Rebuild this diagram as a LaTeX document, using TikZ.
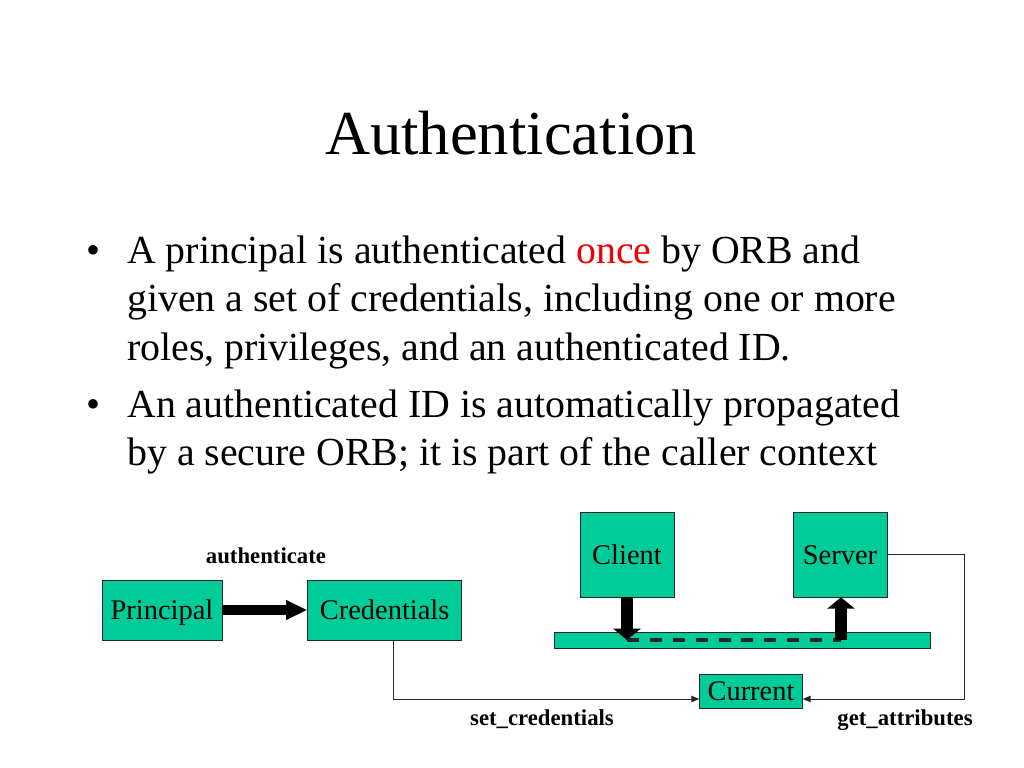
\documentclass[tikz,border=0pt]{standalone}
\usepackage{fontspec}
\setmainfont{Liberation Serif}
\usetikzlibrary{arrows.meta,positioning}
\definecolor{boxgreen}{RGB}{0,204,153}
\definecolor{onceRed}{RGB}{240,0,0}
\tikzset{
    box/.style = {
        draw = black!85,
        fill = boxgreen,
        inner sep = 0pt,
        text height = 16pt,
        text depth = 2pt,
        font = \fontsize{20}{24}\selectfont,
        },
    bar/.style = {
        fill = boxgreen,
        draw = black!85,
        inner sep = 0pt,
        },
    call/.style = {
        anchor = base,
        inner sep = 0pt,
        font = \bfseries\fontsize{16}{19}\selectfont,
        },
    line/.style = {
        anchor = base west,
        inner sep = 0pt,
        font = \fontsize{28}{33}\selectfont,
        },
    fat/.style = {
        line width = 7pt,
        -{Triangle[length=15pt, width=13pt]},
        },
    fat small/.style = {
        line width = 9pt,
        -{Triangle[length=8pt, width=19pt]},
        },
    ctx/.style = {
        draw = black!85,
        line width = 2.5pt,
        dash pattern = on 8.4pt off 7.7pt,
        },
    link/.style = {
        draw = black!85,
        line width = 0.6pt,
        -{Triangle[length=5.5pt, width=4.5pt]},
        },
}

\begin{document}
\begin{tikzpicture}[x=0.703125pt, y=-0.703125pt]
    \useasboundingbox (0,0) rectangle (1024,768);

    % title and bullets
    \node[anchor=base, inner sep=0pt, font=\fontsize{44}{53}\selectfont] (title) at (511,155) {Authentication};

    \node[line] (dot1) at (86,264) {\textbullet};
    \node[line] (l1) at (127,264) {A principal is authenticated \textcolor{onceRed}{once} by ORB and};
    \node[line] (l2) at (127,312) {given a set of credentials, including one or more};
    \node[line] (l3) at (127,360) {roles, privileges, and an authenticated ID.};
    \node[line] (dot2) at (86,417) {\textbullet};
    \node[line] (l4) at (127,417) {An authenticated ID is automatically propagated};
    \node[line] (l5) at (127,465) {by a secure ORB; it is part of the caller context};

    % left part
    \node[box, minimum width=84.4pt, minimum height=42.2pt] (principal) at (162,610) {Principal};
    \node[box, minimum width=108.3pt, minimum height=42.2pt, right=59.8pt of principal] (cred) {Credentials};
    \node[call] (auth) at (266,563) {authenticate};
    \draw[fat] (principal) -- (cred);

    % right part
    \node[box, minimum width=66.1pt, minimum height=59.8pt] (client) at (627,554.5) {Client};
    \node[box, minimum width=66.1pt, minimum height=59.8pt] (server) at (840,554.5) {Server};
    \node[bar, minimum width=264.4pt, minimum height=11.2pt] (orb) at (742,640) {};
    \node[box, minimum width=72.4pt, minimum height=23.9pt] (current) at (751,691) {Current};

    \coordinate (drop) at (627,640);
    \coordinate (pick) at (841,640);
    \draw[ctx] (drop) -- (pick);
    \draw[fat small] (client.south) -- (drop);
    \draw[fat small] (pick) -- (server.south -| pick);

    \coordinate (c1) at (393,699);
    \coordinate (s1) at (964,554);
    \coordinate (s2) at (964,699);
    \draw[link] (cred.south -| c1) -- (c1) -- (current.west |- c1);
    \draw[link] (server.east |- s1) -- (s1) -- (s2) -- (current.east |- s2);

    \node[call] (setc) at (542,725) {set\_credentials};
    \node[call] (geta) at (905,725) {get\_attributes};
\end{tikzpicture}
\end{document}
